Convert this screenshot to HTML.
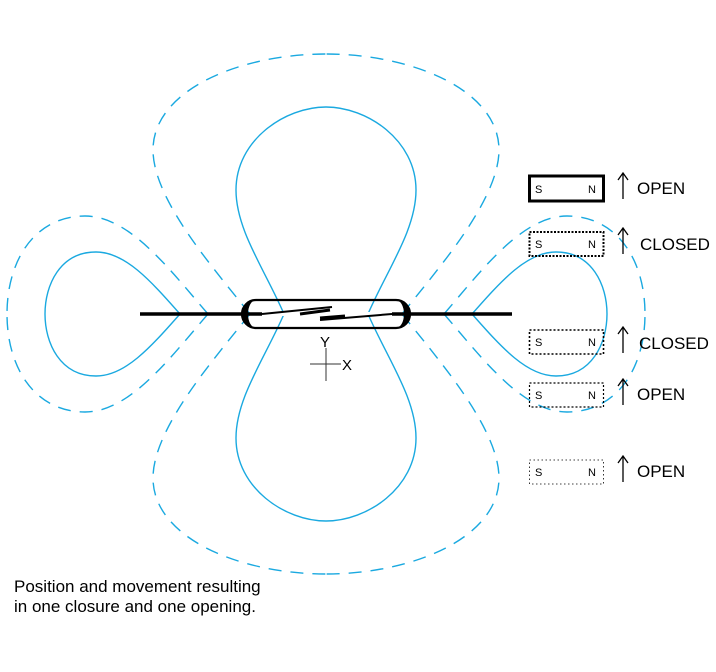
<!DOCTYPE html>
<html><head><meta charset="utf-8"><style>
body{margin:0;background:#fff;}
svg{display:block;}
text{font-family:"Liberation Sans",Arial,sans-serif;}
</style></head><body>
<svg width="716" height="672" viewBox="0 0 716 672" xmlns="http://www.w3.org/2000/svg">
<g fill="none" stroke="#1aa9e0" stroke-width="1.4">
  <g>
    <path d="M284,314 C265,270 236,230 236,190 C236,140 285,107 326,107"/>
    <path d="M250,314 C215,270 153,200 153,150 C153,90 240,54 326,54" stroke-dasharray="13,9"/>
    <path d="M180,314 C150,280 125,252 96,252 C60,252 45,285 45,314"/>
    <path d="M208,314 C170,270 130,216 85,216 C35,216 7,260 7,314" stroke-dasharray="13,9"/>
  </g>
  <g transform="matrix(-1 0 0 1 652 0)">
    <path d="M284,314 C265,270 236,230 236,190 C236,140 285,107 326,107"/>
    <path d="M250,314 C215,270 153,200 153,150 C153,90 240,54 326,54" stroke-dasharray="13,9"/>
    <path d="M180,314 C150,280 125,252 96,252 C60,252 45,285 45,314"/>
    <path d="M208,314 C170,270 130,216 85,216 C35,216 7,260 7,314" stroke-dasharray="13,9"/>
  </g>
  <g transform="matrix(1 0 0 -1 0 628)">
    <path d="M284,314 C265,270 236,230 236,190 C236,140 285,107 326,107"/>
    <path d="M250,314 C215,270 153,200 153,150 C153,90 240,54 326,54" stroke-dasharray="13,9"/>
    <path d="M180,314 C150,280 125,252 96,252 C60,252 45,285 45,314"/>
    <path d="M208,314 C170,270 130,216 85,216 C35,216 7,260 7,314" stroke-dasharray="13,9"/>
  </g>
  <g transform="matrix(-1 0 0 -1 652 628)">
    <path d="M284,314 C265,270 236,230 236,190 C236,140 285,107 326,107"/>
    <path d="M250,314 C215,270 153,200 153,150 C153,90 240,54 326,54" stroke-dasharray="13,9"/>
    <path d="M180,314 C150,280 125,252 96,252 C60,252 45,285 45,314"/>
    <path d="M208,314 C170,270 130,216 85,216 C35,216 7,260 7,314" stroke-dasharray="13,9"/>
  </g>
</g>
<line x1="140" y1="314" x2="512" y2="314" stroke="#000" stroke-width="3.5"/>
<rect x="242" y="300" width="168" height="28" rx="14" fill="none" stroke="#000" stroke-width="2.2"/>
<path d="M256,300 A14,14 0 0 0 256,328 A8,14 0 0 1 256,300 Z" fill="#000"/>
<path d="M396,300 A14,14 0 0 1 396,328 A8,14 0 0 0 396,300 Z" fill="#000"/>
<rect x="262" y="312" width="130" height="4" fill="#fff"/>
<line x1="262" y1="314" x2="332" y2="307" stroke="#000" stroke-width="2"/>
<line x1="320" y1="320" x2="392" y2="314" stroke="#000" stroke-width="2"/>
<line x1="300" y1="314" x2="330" y2="310" stroke="#000" stroke-width="3"/>
<line x1="320" y1="318" x2="345" y2="316" stroke="#000" stroke-width="3"/>
<line x1="326" y1="348" x2="326" y2="381" stroke="#333" stroke-width="1"/>
<line x1="310" y1="364" x2="341" y2="364" stroke="#333" stroke-width="1"/>
<text x="320" y="347" font-size="15">Y</text>
<text x="342" y="370" font-size="15">X</text>
<g fill="none" stroke="#000">
  <rect x="529.5" y="176" width="74" height="25" stroke-width="3"/>
  <rect x="529.5" y="232" width="74" height="24" stroke-width="2" stroke-dasharray="2,1.5"/>
  <rect x="529.5" y="330" width="74" height="24" stroke-width="1.6" stroke-dasharray="2,2"/>
  <rect x="529.5" y="383" width="74" height="24" stroke-width="1.2" stroke-dasharray="2,2"/>
  <rect x="529.5" y="460" width="74" height="24" stroke-width="0.8" stroke-dasharray="1.5,2.5"/>
</g>
<g font-size="11">
  <text x="535" y="193">S</text><text x="588" y="193">N</text>
  <text x="535" y="248">S</text><text x="588" y="248">N</text>
  <text x="535" y="346">S</text><text x="588" y="346">N</text>
  <text x="535" y="399">S</text><text x="588" y="399">N</text>
  <text x="535" y="476">S</text><text x="588" y="476">N</text>
</g>
<g stroke="#000" stroke-width="1.3" fill="none">
  <path d="M623,199 V173 M618,180 L623,173 L628,180"/>
  <path d="M623,254 V228 M618,235 L623,228 L628,235"/>
  <path d="M623,353 V327 M618,334 L623,327 L628,334"/>
  <path d="M623,405 V379 M618,386 L623,379 L628,386"/>
  <path d="M623,482 V456 M618,463 L623,456 L628,463"/>
</g>
<g font-size="17">
  <text x="637" y="194">OPEN</text>
  <text x="640" y="250">CLOSED</text>
  <text x="639" y="349">CLOSED</text>
  <text x="637" y="400">OPEN</text>
  <text x="637" y="477">OPEN</text>
</g>
<text x="14" y="592" font-size="17">Position and movement resulting</text>
<text x="14" y="612" font-size="17">in one closure and one opening.</text>
</svg>
</body></html>
